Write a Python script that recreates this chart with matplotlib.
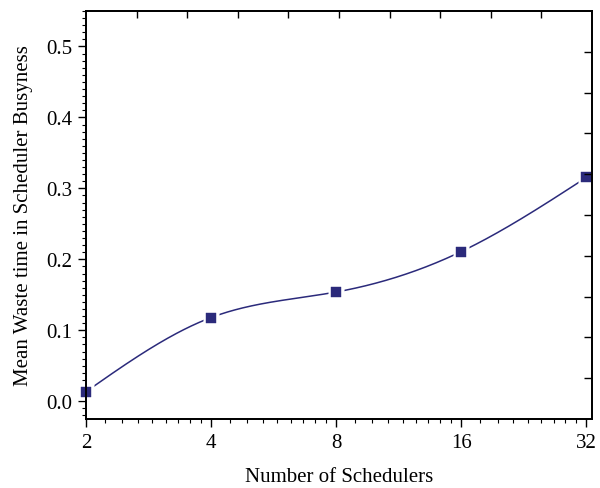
import numpy as np
import matplotlib
matplotlib.use("Agg")
import matplotlib.pyplot as plt
from matplotlib.ticker import FixedLocator, LogLocator, NullFormatter, MultipleLocator

schedulers = [2, 4, 8, 16, 32]
waste_time = [0.0135, 0.118, 0.154, 0.211, 0.3155]
x_tick_labels = ["2", "4", "8", "16", "32"]

line_color = "#2B2A7B"

plt.rcParams['font.family'] = ['Liberation Serif', 'DejaVu Serif']

fig = plt.figure(figsize=(6.0, 4.89), dpi=100)
ax = fig.add_axes([86/600, 1-420/489, (592-86)/600, (420-12)/489])

# natural cubic spline in log2(x) space for a smooth connecting curve
def natural_spline(xk, yk, xs):
    xk = np.asarray(xk, float); yk = np.asarray(yk, float)
    n = len(xk)
    h = np.diff(xk)
    A = np.zeros((n, n)); b = np.zeros(n)
    A[0, 0] = 1; A[-1, -1] = 1
    for i in range(1, n-1):
        A[i, i-1] = h[i-1]; A[i, i] = 2*(h[i-1]+h[i]); A[i, i+1] = h[i]
        b[i] = 3*((yk[i+1]-yk[i])/h[i] - (yk[i]-yk[i-1])/h[i-1])
    c = np.linalg.solve(A, b)
    out = np.empty_like(xs)
    for j, xv in enumerate(xs):
        i = min(max(np.searchsorted(xk, xv) - 1, 0), n-2)
        dx = xv - xk[i]
        bi = (yk[i+1]-yk[i])/h[i] - h[i]*(2*c[i]+c[i+1])/3
        di = (c[i+1]-c[i])/(3*h[i])
        out[j] = yk[i] + bi*dx + c[i]*dx**2 + di*dx**3
    return out

lx = np.log2(schedulers)
xs = np.linspace(lx[0], lx[-1], 400)
ys = natural_spline(lx, waste_time, xs)
ax.plot(2**xs, ys, color=line_color, lw=1.1, zorder=2, clip_on=False)
ax.plot(schedulers, waste_time, ls='none', marker='s', ms=11.5, mfc='white',
        mec='none', zorder=2.2, clip_on=False)
ax.plot(schedulers, waste_time, ls='none', marker='s', ms=7.2, mfc=line_color,
        mec=line_color, mew=0.3, zorder=3, clip_on=False)

ax.set_xscale('log', base=2)
ax.set_xlim(2, 33)
ax.set_ylim(-0.025, 0.55)
ax.xaxis.set_major_locator(FixedLocator(schedulers))
ax.set_xticklabels(x_tick_labels)
ax.xaxis.set_minor_locator(LogLocator(base=2, subs=1 + np.arange(1, 9)/9, numticks=20))
ax.xaxis.set_minor_formatter(NullFormatter())
ax.yaxis.set_major_locator(MultipleLocator(0.1))
ax.yaxis.set_minor_locator(MultipleLocator(0.01))
ax.yaxis.set_major_formatter(matplotlib.ticker.FormatStrFormatter('%.1f'))

ax.tick_params(which='major', direction='out', length=6, width=1.0, labelsize=15, pad=4)
ax.tick_params(which='minor', direction='out', length=3, width=0.8)
for s in ax.spines.values():
    s.set_linewidth(1.1)

ax.set_xlabel("Number of Schedulers", fontsize=15, labelpad=11)
ax.set_ylabel("Mean Waste time in Scheduler Busyness", fontsize=15, labelpad=9)

# top and right inward ticks (evenly spaced, no labels)
axt = ax.twiny()
axt.set_xlim(0, 1)
axt.set_xticks(np.arange(1, 10)/10)
axt.tick_params(axis='x', direction='in', length=5, width=1.0, labeltop=False)
axr = ax.twinx()
axr.set_ylim(0, 1)
axr.set_yticks(np.arange(1, 10)/10)
axr.tick_params(axis='y', direction='in', length=6, width=1.0, labelright=False)
for a in (axt, axr):
    for s in a.spines.values():
        s.set_linewidth(1.1)

fig.savefig("out.png", dpi=100)
